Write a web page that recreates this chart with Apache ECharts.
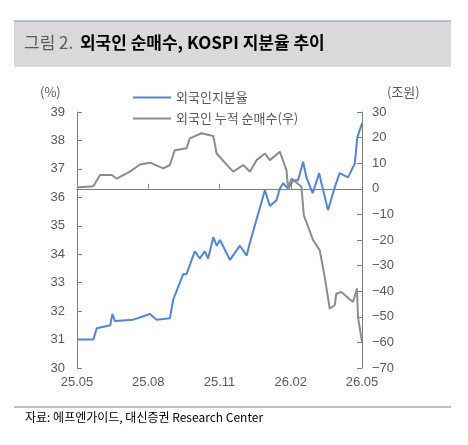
<!DOCTYPE html>
<html><head><meta charset="utf-8">
<script src="https://cdn.jsdelivr.net/npm/echarts@6/dist/echarts.min.js"></script>
<style>html,body{margin:0;padding:0;background:#fff}#c{width:468px;height:445px}</style>
</head><body><div id="c"></div>
<script>
var xTickLabels = ['25.05','25.08','25.11','26.02','26.05'];
var shareMonths = [0,0.69,0.83,1.4,1.49,1.6,2.37,3.07,3.35,3.91,4.05,4.47,4.61,4.96,5.17,5.38,5.52,5.74,5.88,6.02,6.44,6.86,7.14,7.28,7.91,8.12,8.4,8.54,8.68,8.89,9.1,9.31,9.52,9.66,9.92,10.2,10.29,10.57,10.85,11.06,11.41,11.7,11.8,12];
var shareVals = [31.0,31.0,31.4,31.5,31.9,31.65,31.7,31.9,31.7,31.75,32.4,33.3,33.3,34.1,33.85,34.1,33.85,34.6,34.3,34.5,33.8,34.3,33.95,34.4,36.25,35.7,35.9,36.3,36.5,36.3,36.6,36.6,37.25,36.7,36.15,36.85,36.5,35.55,36.35,36.85,36.7,37.2,38.1,38.6];
var netMonths = [0,0.69,0.97,1.46,1.67,2.23,2.65,3.07,3.63,3.91,4.12,4.61,4.75,5.24,5.74,5.88,6.44,6.58,7.0,7.28,7.56,7.91,8.12,8.54,8.82,8.89,9.03,9.45,9.55,9.94,10.22,10.43,10.64,10.85,10.92,11.13,11.62,11.79,11.83,12];
var netVals = [0.5,1,5.4,5.4,4,6.7,9.5,10.2,8,9.3,15.1,15.8,19.7,21.7,20.6,13.8,8,6.7,9.3,6.7,11.2,13.8,11.2,14.5,7.3,0.1,4,0.8,-10.3,-20,-24,-34.4,-46.8,-45.5,-41,-40.3,-44.2,-39,-50,-59.8];

function pairs(x,y){return x.map(function(v,i){return [v,y[i]];});}
var lab = {color:'#595959',fontSize:13,fontFamily:'Liberation Sans'};
var chart = echarts.init(document.getElementById('c'));
chart.setOption({
  animation:false,
  graphic:[
    {type:'rect',shape:{x:14,y:21,width:437,height:46},style:{fill:'#d9d9d9'}},
    {type:'line',shape:{x1:14,y1:21,x2:451,y2:21},style:{stroke:'#6f9bd5',lineWidth:1}},
    {type:'text',left:24,top:34,style:{text:'{a|그림 2.}  {b|외국인 순매수, KOSPI 지분율 추이}',rich:{a:{fontSize:17,fill:'#595959',fontFamily:'Noto Sans CJK KR'},b:{fontSize:17,fill:'#000',fontWeight:'bold',fontFamily:'Noto Sans CJK KR'}}}},
    {type:'line',shape:{x1:14,y1:407,x2:451,y2:407},style:{stroke:'#bfbfbf',lineWidth:2}},
    {type:'text',left:25,top:411,style:{text:'자료: 에프엔가이드, 대신증권 Research Center',fontSize:12,fill:'#000',fontFamily:'Noto Sans CJK KR'}},
    {type:'text',left:40,top:86,style:{text:'(%)',fontSize:13,fill:'#595959',fontFamily:'Noto Sans CJK KR'}},
    {type:'text',left:387,top:86,style:{text:'(조원)',fontSize:13,fill:'#595959',fontFamily:'Noto Sans CJK KR'}}
  ],
  legend:{orient:'vertical',left:128,top:86,itemGap:8,itemWidth:38,itemHeight:2,icon:'rect',
    textStyle:{color:'#595959',fontSize:13,fontFamily:'Noto Sans CJK KR'},
    data:['외국인지분율','외국인 누적 순매수(우)']},
  grid:{left:77,right:106,top:112,bottom:77},
  xAxis:{type:'value',min:0,max:12,interval:3,
    axisLine:{lineStyle:{color:'#7f7f7f'}},axisTick:{show:true,inside:true,length:5,lineStyle:{color:'#7f7f7f'}},
    splitLine:{show:false},
    axisLabel:Object.assign({margin:8,formatter:function(v){return xTickLabels[v/3];}},lab)},
  yAxis:[
    {type:'value',min:30,max:39,interval:1,axisLine:{show:true,lineStyle:{color:'#7f7f7f'}},
      axisTick:{show:true,inside:true,length:5,lineStyle:{color:'#7f7f7f'}},splitLine:{show:false},axisLabel:Object.assign({margin:12},lab)},
    {type:'value',min:-70,max:30,interval:10,axisLine:{show:true,lineStyle:{color:'#7f7f7f'}},
      axisTick:{show:true,inside:true,length:5,lineStyle:{color:'#7f7f7f'}},splitLine:{show:false},
      axisLabel:Object.assign({margin:10,formatter:function(v){return v<0?'−'+(-v):''+v;}},lab)}
  ],
  series:[
    {name:'외국인지분율',type:'line',yAxisIndex:0,data:pairs(shareMonths,shareVals),showSymbol:false,
      lineStyle:{color:'#4f86d9',width:2},itemStyle:{color:'#4f86d9'}},
    {name:'외국인 누적 순매수(우)',type:'line',yAxisIndex:1,data:pairs(netMonths,netVals),showSymbol:false,
      lineStyle:{color:'#8c8c8c',width:2},itemStyle:{color:'#8c8c8c'}}
  ]
});
</script></body></html>
